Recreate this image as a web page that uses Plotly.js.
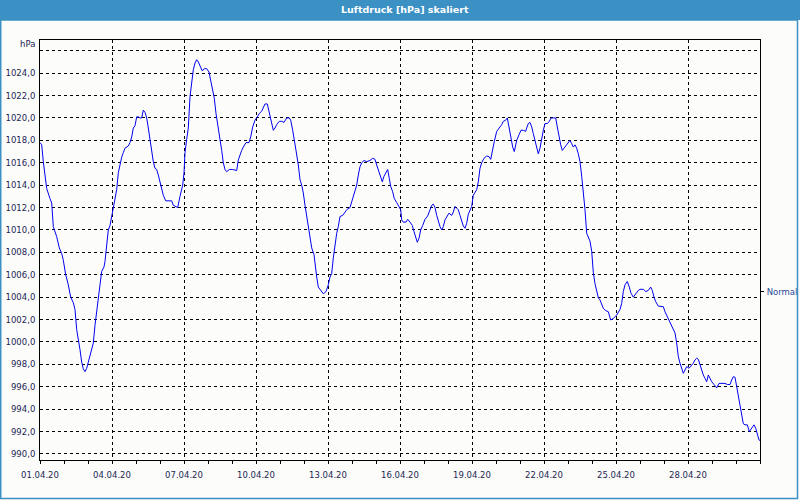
<!DOCTYPE html>
<html>
<head>
<meta charset="utf-8">
<script src="https://cdn.plot.ly/plotly-3.0.1.min.js"></script>
<style>
  html, body { margin: 0; padding: 0; background: #ffffff; }
  #chart { width: 800px; height: 500px; }
</style>
</head>
<body>
<div id="chart"></div>
<script>
// Hours since 01.04.20 00:00
const hours = [
  0,1.7,3.3,5,6.7,10,11.7,13.3,16.7,19.3,21.7,23.3,25.7,28.3,30.7,33.3,35,36.7,38.3,40,
  41.7,43.3,45,46.7,48.3,50,51.7,53.3,55,56.7,58.3,60,61.7,64,65,66.7,68.3,70,71.7,73.3,
  75,76.7,78.3,80,81.7,83.3,85,88.3,90,91.7,93.3,95,96.7,98.3,100,101.7,103.3,105,106.7,108.3,
  110,111.7,113.3,115,116.7,118.3,120,121.7,123.3,125.7,128.3,131.7,133.3,136.7,137.7,140,142.7,144,145,146.7,
  148.3,150,151.7,153.3,155,156.7,158.3,160,162.3,164.3,166.7,169,170.7,172.7,174.3,176,178.3,180,181.7,183.3,
  185,186.7,189.3,192.7,195,196.7,198.3,200,201.7,203.3,206,209,210.7,212.7,215,217.3,219.3,221.7,223.3,225,
  227.3,229,230,231.7,233.3,235,236.7,239.3,241.7,244,246.7,249.3,250.7,252.7,254,256,258.3,260,261.7,263.3,
  265,266.7,268.3,270,271.7,274,275,276.7,278.3,280.7,283.3,286,288.3,290,291.7,293.3,295,296.7,298.3,300,
  302.7,305,306.7,310,311.7,313.3,315,316.7,318.3,320,321.7,324,326.7,330,332.7,335,336.7,338.3,340,342.3,
  344,346,347.7,349.3,350.7,352.7,354.3,356.7,359,360.7,361.7,363.3,366,367.7,370,372.3,374,375.7,377.3,379,
  380.7,382.7,385,387.7,390,391.7,393.3,395,396.7,398.3,400,401.7,403.3,405,406.7,409,411.7,413.3,415,416.7,
  418.3,420,421.7,423.3,425,426.7,428.3,430,431.7,433.3,435,436.7,438.3,440,441.7,444,446.7,449,450.7,452.3,
  454.3,456.7,459.3,461.7,463.3,465.7,467.3,469,470.7,472.7,474.3,476.7,479,481,483.3,485.7,486.7,488.3,490,491.7,
  493.3,495,496.7,498.3,500,501.7,503.3,505,507.3,509.3,511,513.3,515.7,517.3,519,520.7,522.3,524,526,528.3,
  530,531.7,533.3,535,536.7,538.3,540,541.7,543.3,545,546.7,548.3,550,551.7,553.3,555,556.7,558.3,560,561.7,
  563.3,565.7,568.3,570.7,573.3,576.7,580,581.7,583.3,585,587.3,589.3,591,593.3,595,596.7,598.3,600,603.3,605.7,
  608.3,610.7,612.3,614,615.7,618.3,621.7,623.3,625,626.7,628.3,630,631.7,633.3,635,636.7,638.3,640,641.7,643.3,
  645,646.7,649,651,653.3,655,656.7,658.3,660,661.7,663.3,665,666.7,668.3,670,671.7,674,676.7,679,681.7,
  685,687.3,690,691.7,693.3,695,696.7,698.3,700,701.7,703.3,705,707.3,709.3,711.7,714,715.7,717.3,719,720
];
// Air pressure in hPa
const pressure = [
  1017.8,1017.6,1016.1,1015.1,1013.7,1012.8,1012.4,1010.3,1009.4,1008.4,1007.9,1007.3,1006.0,1005.1,1004.0,1003.5,1002.9,1001.1,1000.0,999.3,
  998.2,997.6,997.35,997.65,998.2,998.8,999.4,999.9,1001.5,1002.6,1003.6,1005.1,1006.3,1006.7,1007.2,1008.7,1010.0,1010.4,1011.2,1012.2,
  1012.8,1013.6,1015.1,1016.0,1016.5,1016.9,1017.3,1017.5,1017.8,1018.3,1019.1,1019.3,1020.1,1020.1,1020.0,1020.0,1020.7,1020.5,1020.0,1019.1,
  1018.0,1016.9,1016.1,1015.5,1015.4,1014.9,1014.3,1013.6,1013.1,1012.6,1012.6,1012.6,1012.2,1012.0,1012.0,1013.0,1014.0,1015.1,1016.9,1018.1,
  1019.1,1021.9,1023.4,1024.3,1024.9,1025.2,1025.0,1024.6,1024.2,1024.4,1024.4,1024.1,1023.4,1022.5,1021.75,1020.4,1019.2,1018.0,1017.1,1016.0,
  1015.4,1015.2,1015.4,1015.4,1015.3,1015.3,1016.25,1016.8,1017.1,1017.4,1017.8,1017.8,1018.3,1019.2,1019.8,1020.1,1020.4,1020.6,1020.9,1021.25,
  1021.25,1020.6,1020.0,1019.4,1018.9,1019.1,1019.4,1019.7,1019.7,1019.6,1020.0,1020.0,1019.8,1018.9,1018.0,1017.1,1015.8,1014.5,1014.0,1013.3,
  1012.2,1011.2,1010.0,1009.1,1008.4,1007.8,1006.9,1005.8,1004.9,1004.6,1004.3,1004.5,1005.1,1005.8,1006.1,1007.5,1008.8,1009.7,1010.3,1011.2,
  1011.3,1011.6,1011.8,1012.0,1012.5,1013.1,1013.6,1014.0,1014.9,1015.65,1016.0,1016.2,1016.1,1016.2,1016.4,1016.3,1015.8,1015.4,1014.9,1014.3,
  1014.8,1015.1,1015.4,1014.6,1013.9,1013.4,1012.8,1012.45,1012.1,1011.8,1010.9,1010.7,1010.7,1010.95,1010.7,1010.4,1009.85,1009.25,1008.9,1009.25,
  1010.0,1010.4,1010.95,1011.25,1011.8,1012.2,1012.3,1012.0,1011.3,1010.75,1010.3,1010.0,1010.3,1010.9,1011.2,1011.5,1011.3,1011.6,1012.1,1011.9,
  1011.8,1011.3,1010.7,1010.35,1010.15,1010.6,1011.4,1011.8,1012.1,1013.1,1013.3,1013.6,1014.3,1015.5,1016.0,1016.4,1016.6,1016.55,1016.3,1017.1,
  1017.9,1018.8,1019.1,1019.4,1019.7,1019.8,1020.0,1019.2,1018.3,1017.4,1017.0,1018.0,1018.5,1018.9,1018.9,1018.8,1019.1,1019.5,1019.6,1019.2,
  1018.6,1018.0,1017.4,1016.8,1017.3,1018.2,1018.9,1019.5,1019.5,1019.7,1020.0,1020.0,1020.0,1019.2,1018.3,1017.6,1017.1,1017.3,1017.6,1017.9,
  1018.0,1017.7,1017.4,1017.6,1017.3,1016.8,1016.1,1014.8,1013.6,1011.8,1009.7,1009.4,1009.0,1008.1,1006.2,1005.2,1004.4,1003.95,1003.75,1003.4,
  1003.0,1002.8,1002.7,1001.96,1002.1,1002.4,1002.9,1003.45,1004.5,1005.1,1005.4,1004.9,1004.35,1004.0,1004.2,1004.5,1004.6,1004.7,1004.7,1004.5,
  1004.6,1004.9,1004.6,1004.0,1003.6,1003.2,1003.2,1003.15,1002.7,1002.4,1002.1,1001.7,1001.4,1001.1,1000.8,999.9,998.7,998.1,997.5,997.2,
  997.5,997.8,997.65,997.85,998.1,998.4,998.55,998.45,997.9,997.5,997.05,996.75,996.45,997.05,996.75,996.45,996.2,995.9,996.3,996.3,
  996.3,996.2,996.2,996.6,996.9,996.85,996.0,995.1,994.2,993.5,992.7,992.6,992.6,992.0,992.3,992.6,992.3,991.7,991.25,991.2
];
const xTickLabels = ['01.04.20','04.04.20','07.04.20','10.04.20','13.04.20','16.04.20','19.04.20','22.04.20','25.04.20','28.04.20'];
const yTickValues = [990,992,994,996,998,1000,1002,1004,1006,1008,1010,1012,1014,1016,1018,1020,1022,1024,1026];
const yTickLabels = ['990,0','992,0','994,0','996,0','998,0','1000,0','1002,0','1004,0','1006,0','1008,0','1010,0','1012,0','1014,0','1016,0','1018,0','1020,0','1022,0','1024,0',''];
const normalLevel = [1004.5];
const normalLabel = ['Normal'];
const titleText = 'Luftdruck [hPa] skaliert';
const unitLabel = 'hPa';

const DAY = 86400000;
const start = Date.UTC(2020, 3, 1);
const xs = hours.map(h => start + h * 3600000);
const xTickVals = xTickLabels.map((_, i) => start + i * 3 * DAY);

const W = 720, H = 420; // plot area size
const yRange = [989.46, 1026.96];
const tickFont = {family: 'DejaVu Sans, Verdana, sans-serif', size: 8.5, color: '#1c2452'};
const barColor = '#3c91c4';

const trace = {
  x: xs, y: pressure, type: 'scatter', mode: 'lines',
  line: {color: '#0000f0', width: 1}, hoverinfo: 'skip', showlegend: false
};
const dummy = {
  x: [xs[0]], y: [pressure[0]], yaxis: 'y2', type: 'scatter', mode: 'lines',
  line: {width: 0}, hoverinfo: 'skip', showlegend: false
};

const layout = {
  width: 800, height: 500,
  margin: {l: 40, r: 40, t: 40, b: 40, pad: 0},
  paper_bgcolor: '#fcfdfb', plot_bgcolor: '#fcfdfb',
  showlegend: false,
  xaxis: {
    type: 'date', range: [start, start + 30 * DAY],
    tickmode: 'array', tickvals: xTickVals, ticktext: xTickLabels,
    ticks: 'outside', ticklen: 3, tickcolor: '#000', tickwidth: 1,
    showgrid: true, gridcolor: '#000', gridwidth: 1, griddash: '3px,3px',
    showline: true, linecolor: '#000', linewidth: 1, mirror: true,
    zeroline: false, tickfont: tickFont, ticklabelstandoff: 4,
    minor: {tickmode: 'linear', tick0: start, dtick: DAY, ticks: 'outside', ticklen: 3, tickcolor: '#000', showgrid: false},
    fixedrange: true
  },
  yaxis: {
    range: yRange, tickmode: 'array', tickvals: yTickValues, ticktext: yTickLabels,
    ticks: '', showgrid: true, gridcolor: '#000', gridwidth: 1, griddash: '3px,3px',
    showline: true, linecolor: '#000', linewidth: 1, mirror: true,
    zeroline: false, tickfont: tickFont, ticklabelstandoff: 2, fixedrange: true
  },
  yaxis2: {
    overlaying: 'y', side: 'right', range: yRange,
    tickmode: 'array', tickvals: normalLevel, ticktext: normalLabel,
    ticks: 'outside', ticklen: 3, tickcolor: '#000',
    showgrid: false, showline: false, zeroline: false,
    tickfont: {family: 'DejaVu Sans, Verdana, sans-serif', size: 8.5, color: '#2a4a9a'},
    ticklabelstandoff: 1, fixedrange: true
  },
  shapes: [
    {type: 'rect', xref: 'paper', yref: 'paper',
     x0: -40 / W, x1: 1 + 40 / W, y0: 1 + 20 / H, y1: 1 + 40 / H,
     fillcolor: barColor, line: {width: 0}, layer: 'above'},
    {type: 'rect', xref: 'paper', yref: 'paper',
     x0: (0.75 - 40) / W, x1: (797.5 - 40) / W, y0: (460 - 498.5) / H, y1: 1 + 20 / H,
     fillcolor: 'rgba(0,0,0,0)', line: {color: barColor, width: 1.5}, layer: 'above'}
  ],
  annotations: [
    {text: titleText, xref: 'paper', yref: 'paper', x: 0.5 + 5 / W, y: (460 - 9.5) / H,
     xanchor: 'center', yanchor: 'middle', showarrow: false,
     font: {family: 'DejaVu Sans, Verdana, sans-serif', size: 9.5, color: '#ffffff', weight: 'bold'}},
    {text: unitLabel, xref: 'paper', yref: 'paper', x: -3 / W, y: (460 - 44) / H,
     xanchor: 'right', yanchor: 'middle', showarrow: false, font: tickFont}
  ]
};

Plotly.newPlot('chart', [trace, dummy], layout, {staticPlot: true, displayModeBar: false});
</script>
</body>
</html>
